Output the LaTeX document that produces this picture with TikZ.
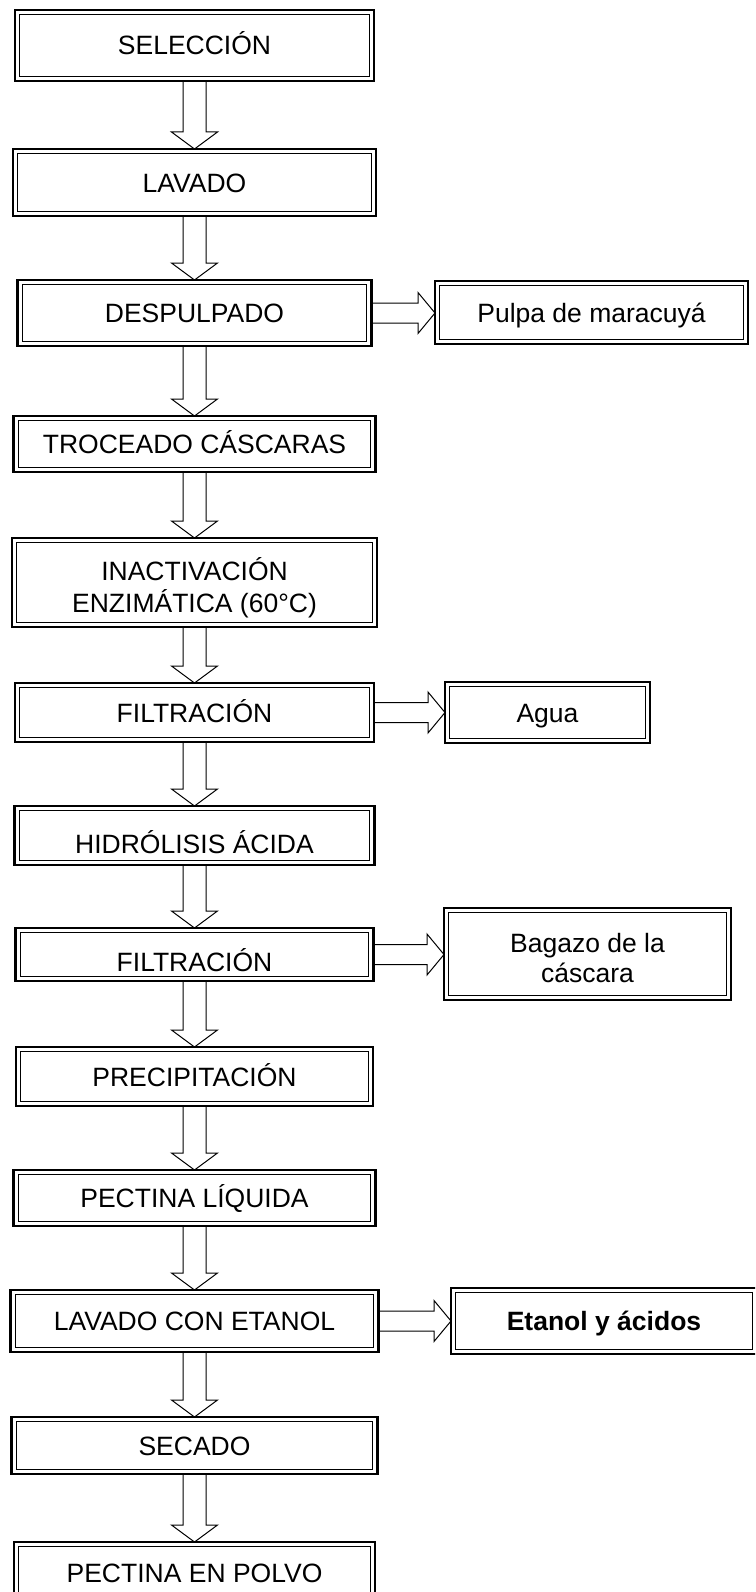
\documentclass[tikz,border=0pt]{standalone}
\usepackage{fontspec}
\setmainfont{Liberation Sans}
\usetikzlibrary{calc}
\newcommand{\flechabaja}[2]{%
 \draw[flecha] ($(#1.south)+(-11.5,0)$) -- ($(#1.south |- #2.north)+(-11.5,-17)$)
  -- ($(#1.south |- #2.north)+(-23,-17)$) -- (#1.south |- #2.north)
  -- ($(#1.south |- #2.north)+(23,-17)$) -- ($(#1.south |- #2.north)+(11.5,-17)$)
  -- ($(#1.south)+(11.5,0)$);}
\newcommand{\flechalado}[2]{%
 \draw[flecha] ($(#1.east)+(0,-10)$) -- ($(#2.west |- #1.east)+(-17,-10)$)
  -- ($(#2.west |- #1.east)+(-17,-20.5)$) -- (#2.west |- #1.east)
  -- ($(#2.west |- #1.east)+(-17,20.5)$) -- ($(#2.west |- #1.east)+(-17,10)$)
  -- ($(#1.east)+(0,10)$);}
\begin{document}
\begin{tikzpicture}[x=1pt,y=-1pt,
 caja/.style={draw,line width=2.4pt,inner sep=0pt,outer sep=0pt,align=center,
  font=\fontsize{26.5}{32}\selectfont,text height=19pt,text depth=0pt},
 flecha/.style={line width=1pt,line join=miter}]
\useasboundingbox (0,0) rectangle (755,1592);
\clip (0,0) rectangle (755,1592);
\node[caja,minimum width=359pt,minimum height=71pt] (sel) at (194.5,45.5) {SELECCIÓN};
\node[caja,minimum width=363pt,minimum height=67pt] (lav) at (194.5,182.5) {LAVADO};
\node[caja,minimum width=354pt,minimum height=66pt] (desp) at (194.5,313) {DESPULPADO};
\node[caja,minimum width=362pt,minimum height=56pt] (troc) at (194.5,444) {TROCEADO CÁSCARAS};
\node[caja,minimum width=365pt,minimum height=89pt,text height=,text depth=] (inac) at (194.5,582.5) {\rule{0pt}{33pt}INACTIVACIÓN\\ENZIMÁTICA (60°C)};
\node[caja,minimum width=359pt,minimum height=59pt] (filt) at (194.5,712.5) {FILTRACIÓN};
\node[caja,minimum width=360pt,minimum height=59pt,text height=36pt] (hidr) at (194.5,835.5) {HIDRÓLISIS ÁCIDA};
\node[caja,minimum width=358pt,minimum height=53pt,text height=34pt] (filtb) at (194.5,954.5) {FILTRACIÓN};
\node[caja,minimum width=357pt,minimum height=59pt] (prec) at (194.5,1076.5) {PRECIPITACIÓN};
\node[caja,minimum width=362pt,minimum height=56pt] (pliq) at (194.5,1198) {PECTINA LÍQUIDA};
\node[caja,minimum width=368pt,minimum height=62pt] (lavet) at (194.5,1321) {LAVADO CON ETANOL};
\node[caja,minimum width=366pt,minimum height=57pt] (sec) at (194.5,1445.5) {SECADO};
\node[caja,minimum width=361pt,minimum height=62pt] (polvo) at (194.5,1573) {PECTINA EN POLVO};
\node[caja,minimum width=313pt,minimum height=63pt] (pulpa) at (591.5,312.5) {Pulpa de maracuyá};
\node[caja,minimum width=205pt,minimum height=61pt] (agua) at (547.5,712.5) {Agua};
\node[caja,minimum width=287pt,minimum height=92pt,text height=,text depth=,
 font=\fontsize{26.5}{30}\selectfont] (bagazo) at (587.5,954) {\rule{0pt}{28pt}Bagazo de la\\cáscara};
\node[caja,minimum width=306pt,minimum height=66pt,font=\fontsize{26.5}{32}\selectfont\bfseries] (etanol) at (604,1321) {Etanol y ácidos};
\foreach \n in {sel,lav,desp,troc,inac,filt,hidr,filtb,prec,pliq,lavet,sec,polvo,pulpa,agua,bagazo,etanol}
 \draw[line width=1.3pt] ([shift={(4.7pt,-4.7pt)}]\n.north west) rectangle ([shift={(-4.7pt,4.7pt)}]\n.south east);
\flechabaja{sel}{lav}
\flechabaja{lav}{desp}
\flechabaja{desp}{troc}
\flechabaja{troc}{inac}
\flechabaja{inac}{filt}
\flechabaja{filt}{hidr}
\flechabaja{hidr}{filtb}
\flechabaja{filtb}{prec}
\flechabaja{prec}{pliq}
\flechabaja{pliq}{lavet}
\flechabaja{lavet}{sec}
\flechabaja{sec}{polvo}
\flechalado{desp}{pulpa}
\flechalado{filt}{agua}
\flechalado{filtb}{bagazo}
\flechalado{lavet}{etanol}
\end{tikzpicture}
\end{document}
